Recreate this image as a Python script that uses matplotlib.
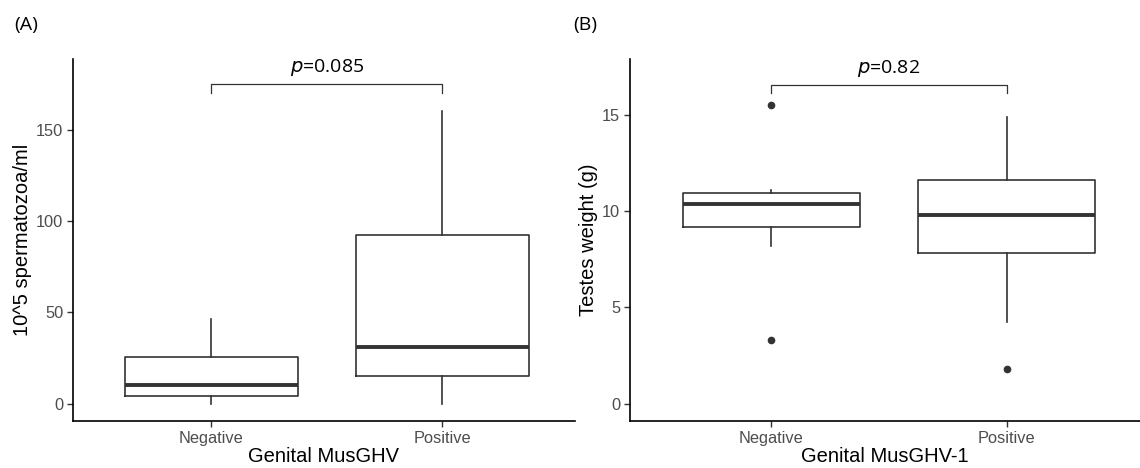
import matplotlib
matplotlib.use("Agg")
import matplotlib.pyplot as plt

# group labels
groups = ['Negative', 'Positive']

# (A) sperm counts, 10^5 spermatozoa/ml
sperm_whislo = [0.0, 0.0]
sperm_q1 = [4.0, 15.0]
sperm_med = [10.4, 31.3]
sperm_q3 = [25.8, 92.3]
sperm_whishi = [46.7, 160.6]
sperm_fliers = [[], []]
sperm_pval = '=0.085'

# (B) testes weight (g)
testes_whislo = [8.18, 4.23]
testes_q1 = [9.15, 7.8]
testes_med = [10.36, 9.77]
testes_q3 = [10.92, 11.61]
testes_whishi = [11.06, 14.87]
testes_fliers = [[15.49, 3.28], [1.79]]
testes_pval = '=0.82'

fig = plt.figure(figsize=(11.4, 4.68), dpi=100)
axA = fig.add_axes([73 / 1140, 47 / 468, 502 / 1140, 362 / 468])
axB = fig.add_axes([630 / 1140, 47 / 468, 510 / 1140, 362 / 468])

dark = '#333333'
tickgray = '#4d4d4d'


def draw_panel(ax, whislo, q1, med, q3, whishi, fliers, ylim, yticks, ylabel, xlabel,
               brk_y, brk_drop, pval, xmax):
    stats = []
    for i in range(len(groups)):
        stats.append(dict(med=med[i], q1=q1[i], q3=q3[i], whislo=whislo[i],
                          whishi=whishi[i], fliers=fliers[i], label=groups[i]))
    ax.bxp(stats, positions=[1, 2], widths=0.75, showcaps=False,
           boxprops=dict(color=dark, linewidth=1.2),
           whiskerprops=dict(color=dark, linewidth=1.2),
           medianprops=dict(color=dark, linewidth=2.8, solid_capstyle='butt'),
           flierprops=dict(marker='o', markerfacecolor=dark, markeredgecolor=dark,
                           markersize=4.5))
    ax.set_xlim(0.4, xmax)
    ax.set_ylim(*ylim)
    ax.set_yticks(yticks)
    ax.set_xticks([1, 2])
    ax.set_xticklabels(groups)
    for s in ['top', 'right']:
        ax.spines[s].set_visible(False)
    for s in ['left', 'bottom']:
        ax.spines[s].set_linewidth(1.2)
        ax.spines[s].set_color('black')
    ax.tick_params(axis='both', length=4, width=1.0, color='#333333',
                   labelsize=11.8, labelcolor=tickgray, pad=3)
    for lab in ax.get_xticklabels() + ax.get_yticklabels():
        lab.set_family('Liberation Sans')
    ax.set_ylabel(ylabel, fontsize=14.5, family='Liberation Sans', labelpad=3)
    ax.set_xlabel(xlabel, fontsize=14.5, family='Liberation Sans', labelpad=1)
    # significance bracket
    ax.plot([1, 1, 2, 2], [brk_y - brk_drop, brk_y, brk_y, brk_y - brk_drop],
            color=dark, linewidth=0.9, clip_on=False)
    ax.annotate(r'$\it{p}$' + pval, xy=(1.5, brk_y), xytext=(0, 4),
                textcoords='offset points', ha='center', va='bottom',
                fontsize=14, family='Open Sans', annotation_clip=False)


draw_panel(axA, sperm_whislo, sperm_q1, sperm_med, sperm_q3, sperm_whishi, sperm_fliers,
           (-9.5, 189), [0, 50, 100, 150], '10^5 spermatozoa/ml', 'Genital MusGHV',
           175.3, 5.0, sperm_pval, 2.576)
draw_panel(axB, testes_whislo, testes_q1, testes_med, testes_q3, testes_whishi, testes_fliers,
           (-0.9, 17.88), [0, 5, 10, 15], 'Testes weight (g)', 'Genital MusGHV-1',
           16.55, 0.45, testes_pval, 2.566)

fig.text(14 / 1140, 1 - 25 / 468, '(A)', fontsize=14, family='Open Sans', va='center')
fig.text(573 / 1140, 1 - 25 / 468, '(B)', fontsize=14, family='Open Sans', va='center')

fig.savefig('out.png', dpi=100)
